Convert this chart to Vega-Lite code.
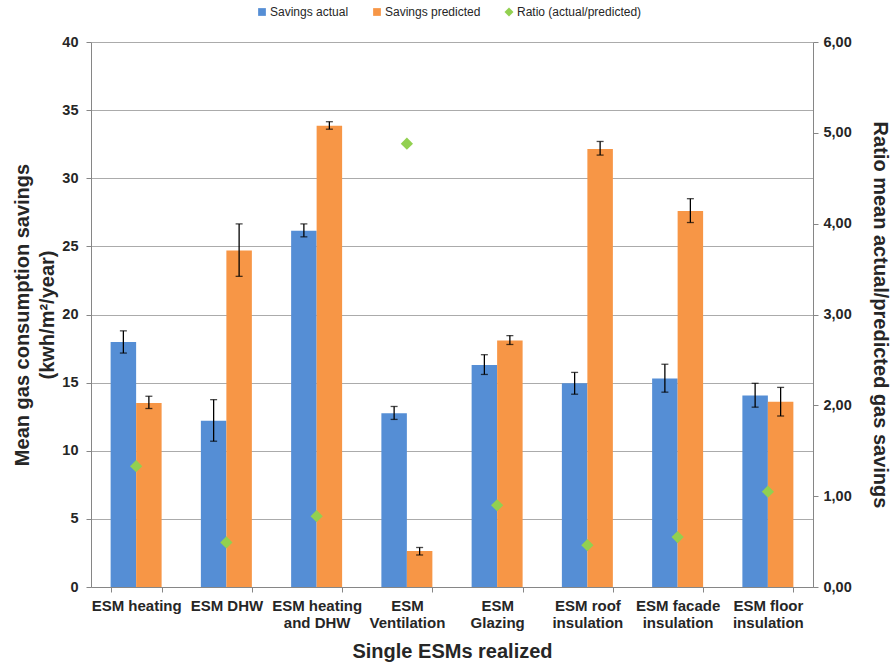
{
  "$schema": "https://vega.github.io/schema/vega-lite/v6.json",
  "width": 722,
  "height": 545,
  "autosize": {"type": "none"},
  "padding": {"left": 91, "top": 42, "right": 79, "bottom": 77},
  "background": "white",
  "config": {"font": "Liberation Sans", "view": {"stroke": null}},
  "datasets": {
    "savings": [
      {"cat": "ESM heating", "series": "Savings actual", "value": 17.98, "lo": 17.17, "hi": 18.8},
      {"cat": "ESM heating", "series": "Savings predicted", "value": 13.5, "lo": 13.1, "hi": 14.0},
      {"cat": "ESM DHW", "series": "Savings actual", "value": 12.2, "lo": 10.7, "hi": 13.75},
      {"cat": "ESM DHW", "series": "Savings predicted", "value": 24.7, "lo": 22.8, "hi": 26.65},
      {"cat": "ESM heating and DHW", "series": "Savings actual", "value": 26.15, "lo": 25.7, "hi": 26.65},
      {"cat": "ESM heating and DHW", "series": "Savings predicted", "value": 33.85, "lo": 33.6, "hi": 34.15},
      {"cat": "ESM Ventilation", "series": "Savings actual", "value": 12.75, "lo": 12.3, "hi": 13.25},
      {"cat": "ESM Ventilation", "series": "Savings predicted", "value": 2.65, "lo": 2.35, "hi": 2.9},
      {"cat": "ESM Glazing", "series": "Savings actual", "value": 16.3, "lo": 15.6, "hi": 17.05},
      {"cat": "ESM Glazing", "series": "Savings predicted", "value": 18.1, "lo": 17.8, "hi": 18.45},
      {"cat": "ESM roof insulation", "series": "Savings actual", "value": 14.95, "lo": 14.15, "hi": 15.75},
      {"cat": "ESM roof insulation", "series": "Savings predicted", "value": 32.15, "lo": 31.7, "hi": 32.7},
      {"cat": "ESM facade insulation", "series": "Savings actual", "value": 15.3, "lo": 14.3, "hi": 16.35},
      {"cat": "ESM facade insulation", "series": "Savings predicted", "value": 27.6, "lo": 26.75, "hi": 28.5},
      {"cat": "ESM floor insulation", "series": "Savings actual", "value": 14.05, "lo": 13.2, "hi": 14.95},
      {"cat": "ESM floor insulation", "series": "Savings predicted", "value": 13.6, "lo": 12.55, "hi": 14.65}
    ],
    "ratio": [
      {"cat": "ESM heating", "series": "Ratio (actual/predicted)", "ratio": 1.33},
      {"cat": "ESM DHW", "series": "Ratio (actual/predicted)", "ratio": 0.49},
      {"cat": "ESM heating and DHW", "series": "Ratio (actual/predicted)", "ratio": 0.78},
      {"cat": "ESM Ventilation", "series": "Ratio (actual/predicted)", "ratio": 4.88},
      {"cat": "ESM Glazing", "series": "Ratio (actual/predicted)", "ratio": 0.9},
      {"cat": "ESM roof insulation", "series": "Ratio (actual/predicted)", "ratio": 0.46},
      {"cat": "ESM facade insulation", "series": "Ratio (actual/predicted)", "ratio": 0.55},
      {"cat": "ESM floor insulation", "series": "Ratio (actual/predicted)", "ratio": 1.05}
    ]
  },
  "encoding": {
    "x": {
      "field": "cat",
      "type": "nominal",
      "scale": {
        "domain": ["ESM heating", "ESM DHW", "ESM heating and DHW", "ESM Ventilation", "ESM Glazing", "ESM roof insulation", "ESM facade insulation", "ESM floor insulation"],
        "paddingInner": 0.435,
        "paddingOuter": 0.2175
      },
      "axis": {
        "title": "Single ESMs realized",
        "titleFontSize": 20,
        "titleFontWeight": "bold",
        "titleColor": "#262626",
        "titlePadding": 11,
        "labelAngle": 0,
        "labelFontSize": 15,
        "labelFontWeight": "bold",
        "labelColor": "#262626",
        "labelLineHeight": 17,
        "labelPadding": 6,
        "labelExpr": "datum.label == 'ESM heating and DHW' ? ['ESM heating', 'and DHW'] : datum.label == 'ESM Ventilation' ? ['ESM', 'Ventilation'] : datum.label == 'ESM Glazing' ? ['ESM', 'Glazing'] : datum.label == 'ESM roof insulation' ? ['ESM roof', 'insulation'] : datum.label == 'ESM facade insulation' ? ['ESM facade', 'insulation'] : datum.label == 'ESM floor insulation' ? ['ESM floor', 'insulation'] : datum.label",
        "tickBand": "extent",
        "tickSize": 5,
        "tickColor": "#868686",
        "domainColor": "#868686",
        "grid": false
      }
    }
  },
  "layer": [
    {
      "data": {"name": "savings"},
      "encoding": {
        "xOffset": {"field": "series", "type": "nominal", "scale": {"domain": ["Savings actual", "Savings predicted"], "paddingInner": 0, "paddingOuter": 0}},
        "y": {
          "field": "value",
          "type": "quantitative",
          "scale": {"domain": [0, 40]},
          "axis": {
            "title": ["Mean gas consumption savings", "(kwh/m²/year)"],
            "titleFontSize": 20,
            "titleFontWeight": "bold",
            "titleColor": "#262626",
            "titleLineHeight": 25,
            "titlePadding": 4,
            "values": [0, 5, 10, 15, 20, 25, 30, 35, 40],
            "labelFontSize": 14.5,
            "labelFontWeight": "bold",
            "labelColor": "#262626",
            "labelPadding": 8,
            "tickSize": 5,
            "tickColor": "#868686",
            "domainColor": "#868686",
            "grid": true,
            "gridColor": "#ABABAB",
            "gridWidth": 1
          }
        }
      },
      "layer": [
        {
          "mark": {"type": "bar"},
          "encoding": {
            "color": {
              "field": "series",
              "type": "nominal",
              "scale": {
                "domain": ["Savings actual", "Savings predicted", "Ratio (actual/predicted)"],
                "range": ["#558ED5", "#F79646", "#92D050"]
              },
              "legend": {
                "title": null,
                "orient": "none",
                "direction": "horizontal",
                "legendX": 165,
                "legendY": -36,
                "labelFontSize": 12,
                "labelColor": "#262626",
                "symbolSize": 60,
                "symbolStrokeWidth": 0,
                "columnPadding": 22,
                "labelOffset": 2,
                "encode": {
                  "symbols": {
                    "update": {
                      "shape": {"signal": "datum.value == 'Ratio (actual/predicted)' ? 'diamond' : 'square'"},
                      "size": {"signal": "datum.value == 'Ratio (actual/predicted)' ? 80 : 60"}
                    }
                  }
                }
              }
            }
          }
        },
        {
          "mark": {"type": "rule", "color": "#000000", "strokeWidth": 1.3},
          "encoding": {
            "y": {"field": "lo", "type": "quantitative"},
            "y2": {"field": "hi"}
          }
        },
        {
          "mark": {"type": "tick", "color": "#000000", "thickness": 1.3, "size": 7, "orient": "horizontal"},
          "encoding": {
            "y": {"field": "lo", "type": "quantitative"}
          }
        },
        {
          "mark": {"type": "tick", "color": "#000000", "thickness": 1.3, "size": 7, "orient": "horizontal"},
          "encoding": {
            "y": {"field": "hi", "type": "quantitative"}
          }
        }
      ]
    },
    {
      "data": {"name": "ratio"},
      "mark": {"type": "point", "shape": "diamond", "filled": true, "size": 150, "opacity": 1},
      "encoding": {
        "y": {
          "field": "ratio",
          "type": "quantitative",
          "scale": {"domain": [0, 6]},
          "axis": {
            "orient": "right",
            "title": "Ratio mean actual/predicted gas savings",
            "titleFontSize": 20,
            "titleFontWeight": "bold",
            "titleColor": "#262626",
            "titlePadding": 18,
            "values": [0, 1, 2, 3, 4, 5, 6],
            "labelExpr": "replace(format(datum.value, '.2f'), '.', ',')",
            "labelFontSize": 14.5,
            "labelFontWeight": "bold",
            "labelColor": "#262626",
            "labelPadding": 5,
            "tickSize": 5,
            "tickColor": "#868686",
            "domainColor": "#868686",
            "grid": false
          }
        },
        "color": {"field": "series", "type": "nominal"}
      }
    }
  ],
  "resolve": {"scale": {"y": "independent"}}
}
